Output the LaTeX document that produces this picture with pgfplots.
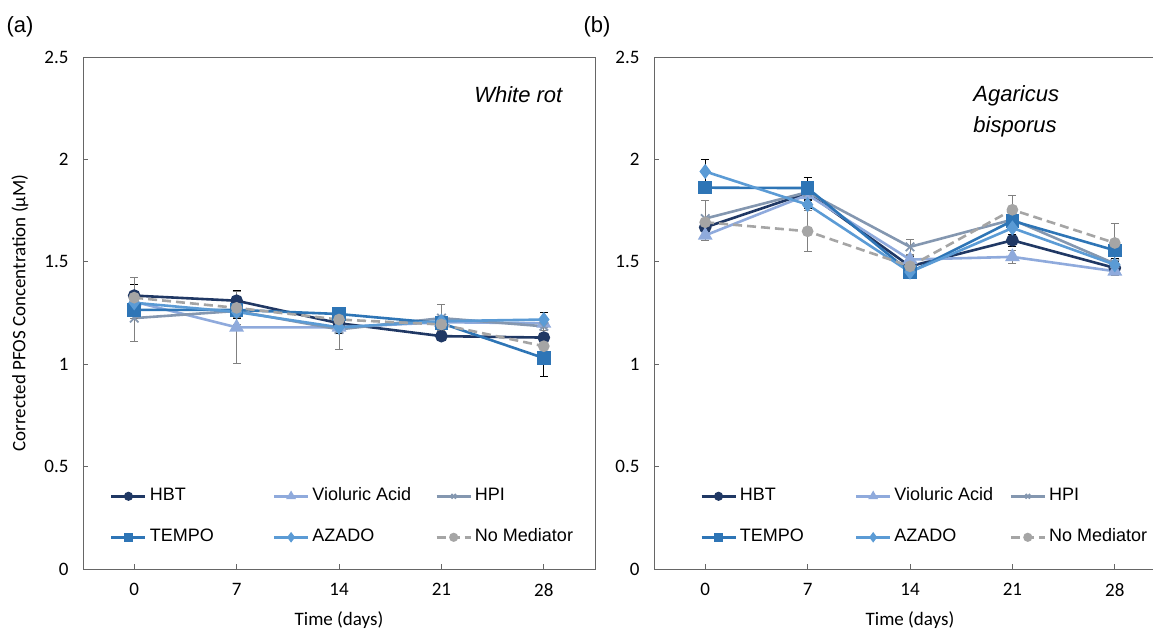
\documentclass[border=0pt]{standalone}
\usepackage{pgfplots}
\pgfplotsset{compat=1.18}
\usepackage{fontspec}
\setmainfont{Carlito}
\newfontfamily\arial{Liberation Sans}
\definecolor{cHBT}{HTML}{203864}
\definecolor{cVio}{HTML}{8FAADC}
\definecolor{cHPI}{HTML}{8497B0}
\definecolor{cTEM}{HTML}{2E75B6}
\definecolor{cAZA}{HTML}{5B9BD5}
\definecolor{cNoM}{HTML}{A5A5A5}
\pgfplotsset{
  panel/.style={
    scale only axis, width=512pt, height=512pt, anchor=south west,
    xmin=-3.5, xmax=31.5, ymin=0, ymax=2.5,
    xtick={0,7,14,21,28}, ytick={0,0.5,1,1.5,2,2.5},
    xtick pos=bottom, ytick pos=left, tick align=inside,
    major tick length=5pt,
    tick style={draw=gray!80!black, line width=0.8pt},
    axis line style={draw=gray!80!black, line width=0.8pt},
    /pgf/number format/assume math mode=true,
    ticklabel style={font=\fontsize{19}{22}\selectfont},
    xticklabel style={yshift=-11pt},
    yticklabel style={xshift=-11pt},
    label style={font=\fontsize{19}{22}\selectfont},
    xlabel={Time (days)},
    xlabel style={at={(axis description cs:0.5,-0.1)}, anchor=center},
    legend columns=3,
    legend image code/.code={\draw[mark repeat=2,mark phase=2,##1,mark size=3.2pt] plot coordinates {(0pt,0pt) (17pt,0pt) (34pt,0pt)};},
    legend style={draw=none, fill=none, inner sep=0pt, anchor=north west,
      column sep=0pt, row sep=24pt,
      /tikz/every odd column/.style={column sep=3pt},
      nodes={inner sep=0pt, text height=13pt, text depth=4pt, font=\arial\fontsize{18}{20}\selectfont}},
    legend cell align=left,
    every axis plot/.append style={line width=2.6pt},
    error bars/y dir=both, error bars/y explicit,
    error bars/error bar style={line width=1pt, black, solid},
    error bars/error mark options={rotate=90, mark size=4pt, line width=1pt, black, solid},
  },
  sHBT/.style={color=cHBT, mark=*, mark size=5pt},
  sVio/.style={color=cVio, mark=triangle*, mark size=6pt, error bars/error bar style={gray}, error bars/error mark options={rotate=90, mark size=4pt, line width=1pt, gray}},
  sHPI/.style={color=cHPI, mark=x, mark size=6pt, mark options={line width=1.8pt}, error bars/error bar style={gray}, error bars/error mark options={rotate=90, mark size=4pt, line width=1pt, gray}},
  sTEM/.style={color=cTEM, mark=square*, mark size=5.5pt},
  sAZA/.style={color=cAZA, mark=diamond*, mark size=5.5pt},
  sNoM/.style={color=cNoM, mark=*, mark size=4.5pt, dash pattern=on 9pt off 5pt, mark options={solid}, error bars/error bar style={gray}, error bars/error mark options={rotate=90, mark size=4pt, line width=1pt, gray}},
}
\begin{document}
\begin{tikzpicture}
\useasboundingbox (0,0) rectangle (1153pt,630pt);
\node[font=\arial\fontsize{22}{24}\selectfont] at (20pt,603pt) {(a)};
\node[font=\arial\fontsize{22}{24}\selectfont] at (597pt,603pt) {(b)};
% ---------------- panel (a)
\begin{axis}[panel, at={(83pt,61pt)},
  ylabel={Corrected PFOS Concentration (\textmu M)},
  ylabel style={at={(axis description cs:-0.123,0.5)}, anchor=center, rotate=0},
  legend style={at={(0.0527,0.159)}},
  legend entries={\makebox[123pt][l]{HBT},\makebox[123pt][l]{Violuric Acid},\makebox[123pt][l]{HPI},\makebox[123pt][l]{TEMPO},\makebox[123pt][l]{AZADO},\makebox[123pt][l]{No Mediator}},
]
\addplot[sHBT] coordinates {(0,1.335) +- (0,0.055) (7,1.31) +- (0,0.05) (14,1.20) +- (0,0.03) (21,1.137) +- (0,0.02) (28,1.13) +- (0,0.02)};
\addplot[sVio] coordinates {(0,1.305) +- (0,0.03) (7,1.18) +- (0,0.177) (14,1.18) +- (0,0.03) (21,1.205) +- (0,0.02) (28,1.20) +- (0,0.02)};
\addplot[sHPI] coordinates {(0,1.225) +- (0,0.114) (7,1.26) +- (0,0.03) (14,1.17) +- (0,0.1) (21,1.225) +- (0,0.065) (28,1.185) +- (0,0.02)};
\addplot[sTEM] coordinates {(0,1.265) +- (0,0.02) (7,1.265) +- (0,0.03) (14,1.245) +- (0,0.02) (21,1.20) +- (0,0.02) (28,1.03) +- (0,0.09)};
\addplot[sAZA] coordinates {(0,1.30) +- (0,0.03) (7,1.255) +- (0,0.03) (14,1.18) +- (0,0.03) (21,1.21) +- (0,0.02) (28,1.218) +- (0,0.035)};
\addplot[sNoM] coordinates {(0,1.325) +- (0,0.1) (7,1.275) +- (0,0.08) (14,1.218) +- (0,0.04) (21,1.194) +- (0,0.03) (28,1.088) +- (0,0.03)};
\node[anchor=east, font=\arial\itshape\fontsize{22}{24}\selectfont] at (rel axis cs:0.943,0.926) {White rot};
\end{axis}
% ---------------- panel (b)
\begin{axis}[panel, at={(654pt,61pt)},
  legend style={at={(0.09,0.159)}},
  legend entries={\makebox[115pt][l]{HBT},\makebox[115pt][l]{Violuric Acid},\makebox[115pt][l]{HPI},\makebox[115pt][l]{TEMPO},\makebox[115pt][l]{AZADO},\makebox[115pt][l]{No Mediator}},
]
\addplot[sHBT] coordinates {(0,1.668) +- (0,0.04) (7,1.836) +- (0,0.03) (14,1.478) +- (0,0.05) (21,1.605) +- (0,0.03) (28,1.47) +- (0,0.03)};
\addplot[sVio] coordinates {(0,1.629) +- (0,0.025) (7,1.827) +- (0,0.03) (14,1.511) +- (0,0.02) (21,1.524) +- (0,0.03) (28,1.454) +- (0,0.02)};
\addplot[sHPI] coordinates {(0,1.711) +- (0,0.09) (7,1.84) +- (0,0.05) (14,1.573) +- (0,0.035) (21,1.706) +- (0,0.03) (28,1.491) +- (0,0.05)};
\addplot[sTEM] coordinates {(0,1.862) +- (0,0.03) (7,1.86) +- (0,0.054) (14,1.449) +- (0,0.03) (21,1.70) +- (0,0.03) (28,1.556) +- (0,0.03)};
\addplot[sAZA] coordinates {(0,1.941) +- (0,0.06) (7,1.779) +- (0,0.02) (14,1.45) +- (0,0.03) (21,1.665) +- (0,0.03) (28,1.486) +- (0,0.03)};
\addplot[sNoM] coordinates {(0,1.693) +- (0,0.02) (7,1.649) +- (0,0.10) (14,1.478) +- (0,0.02) (21,1.754) +- (0,0.07) (28,1.592) +- (0,0.095)};
\node[anchor=north west, align=left, font=\arial\itshape\fontsize{22}{31}\selectfont] at (rel axis cs:0.617,0.951) {Agaricus\\bisporus};
\end{axis}
\end{tikzpicture}
\end{document}
